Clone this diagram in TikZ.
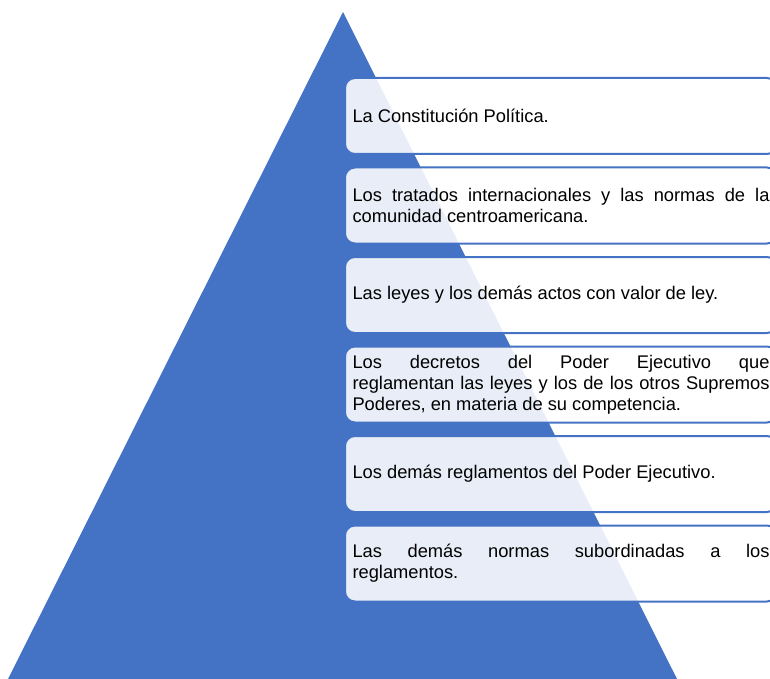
\documentclass[tikz,border=0pt]{standalone}
\usepackage{fontspec}
\setmainfont{Liberation Sans}
\definecolor{pyrblue}{RGB}{68,114,196}
\newcommand{\boxfont}{\fontsize{18.3}{21}\selectfont\hyphenpenalty=10000\relax\tolerance=9999\relax}
\begin{document}
\begin{tikzpicture}[x=1pt,y=-1pt,
  levelbox/.style={anchor=west, draw=pyrblue, line width=2pt, fill=white,
    fill opacity=0.88, text opacity=1, rounded corners=10pt,
    minimum height=76pt, text width=417pt, inner xsep=7.5pt, inner ysep=4pt,
    align=justify, text=black, font=\boxfont}]
\useasboundingbox (0,0) rectangle (770,679);
\clip (0,0) rectangle (770,679);
\fill[pyrblue] (343,12) -- (677,679) -- (8,679) -- cycle;
\node[levelbox] (b1) at (344,116) {La Constitución Política.};
\node[levelbox] (b2) at (344,205.5) {Los tratados internacionales y las normas de la\linebreak comunidad centroamericana.};
\node[levelbox] (b3) at (344,295) {Las leyes y los demás actos con valor de ley.};
\node[levelbox] (b4) at (344,384.5) {Los decretos del Poder Ejecutivo que\linebreak reglamentan las leyes y los de los otros Supremos\linebreak Poderes, en materia de su competencia.};
\node[levelbox] (b5) at (344,474) {Los demás reglamentos del Poder Ejecutivo.};
\node[levelbox] (b6) at (344,563.5) {Las demás normas subordinadas a los\linebreak reglamentos.};
\end{tikzpicture}
\end{document}
